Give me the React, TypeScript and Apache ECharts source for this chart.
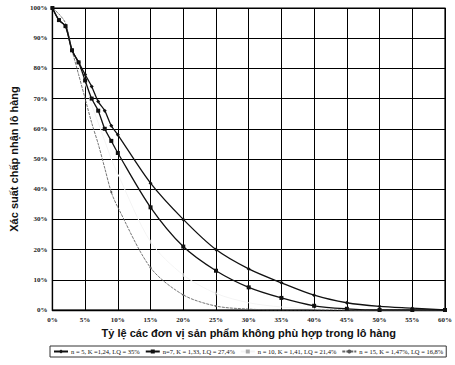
import React, { useEffect, useRef } from "react";
import * as echarts from "echarts";

const xValues = [0, 1, 2, 3, 4, 5, 6, 7, 8, 9, 10, 15, 20, 25, 30, 35, 40, 45, 50, 55, 60];
const n5 = [100, 96, 94, 86, 82, 78, 74, 69, 66, 61, 58, 42, 30, 20, 13.6, 9, 4.9, 2.4, 1.2, 0.6, 0];
const n7 = [100, 96, 94, 86, 82, 76, 70, 66, 60, 56, 52, 34, 21, 13, 7.5, 4, 1.4, 0.4, 0, 0, 0];
const n10 = [100, 97, 93, 87, 81, 75, 68, 62, 56, 50, 45, 22.6, 11.6, 5.5, 2.4, 1, 0.4, 0.1, 0, 0, 0];
const n15 = [100, 98, 95, 86, 78, 70, 62, 55, 47, 39, 34, 14, 5, 1.3, 0.3, 0, 0, 0, 0, 0, 0];
const n10Marked = [15, 20, 25];
const n15Marked = [9, 15, 20, 25];
const seriesNames = [
  "n = 5, K =1,24, LQ = 35%",
  "n=7, K = 1,33, LQ = 27,4%",
  "n = 10, K = 1,41, LQ = 21,4%",
  "n = 15, K = 1,47%, LQ = 16,8%",
];
const xTitle = "Tỷ lệ các đơn vị sản phẩm không phù hợp trong lô hàng";
const yTitle = "Xác suất chấp nhận lô hàng";

const pairs = (ys: number[]) => xValues.map((x, i) => [x, ys[i]]);
const pairsMarked = (ys: number[], marked: number[]) =>
  xValues.map((x, i) => (marked.includes(x) ? { value: [x, ys[i]] } : { value: [x, ys[i]], symbol: "none" }));

export default function App() {
  const ref = useRef<HTMLDivElement>(null);
  useEffect(() => {
    if (!ref.current) return;
    const chart = echarts.init(ref.current, null, { renderer: "svg" });
    const tickFont = { fontFamily: "Liberation Serif", fontSize: 7, fontWeight: "bold" as const, color: "#222" };
    chart.setOption({
      animation: false,
      backgroundColor: "#fff",
      grid: { left: 47, right: 8, top: 8, bottom: 55, show: true, borderColor: "#000", borderWidth: 1.2 },
      xAxis: {
        type: "value",
        min: 0,
        max: 60,
        interval: 5,
        axisLabel: { ...tickFont, margin: 6, formatter: (v: number) => v + "%" },
        axisLine: { lineStyle: { color: "#000", width: 1.3 } },
        axisTick: { show: false },
        splitLine: { lineStyle: { color: "#000", width: 1 } },
        name: xTitle,
        nameLocation: "middle",
        nameGap: 17,
        nameTextStyle: { fontFamily: "Liberation Sans", fontSize: 11, fontWeight: "bold", color: "#111" },
      },
      yAxis: {
        type: "value",
        min: 0,
        max: 100,
        interval: 10,
        axisLabel: { ...tickFont, margin: 5, formatter: (v: number) => v + "%" },
        axisLine: { show: true, lineStyle: { color: "#000", width: 1.3 } },
        axisTick: { show: false },
        splitLine: { lineStyle: { color: "#000", width: 1 } },
        name: yTitle,
        nameLocation: "middle",
        nameGap: 31,
        nameTextStyle: { fontFamily: "Liberation Sans", fontSize: 11, fontWeight: "bold", color: "#111" },
      },
      legend: {
        left: 50,
        top: 346,
        borderColor: "#333",
        borderWidth: 1,
        padding: [2, 3],
        itemGap: 5,
        itemWidth: 14,
        itemHeight: 5,
        textStyle: { fontFamily: "Liberation Serif", fontSize: 6.5, color: "#111", padding: [0, 0, 0, -2] },
        data: seriesNames,
      },
      series: [
        {
          name: seriesNames[0],
          type: "line",
          smooth: 0.3,
          data: pairs(n5),
          symbol: "diamond",
          symbolSize: 4,
          lineStyle: { color: "#111", width: 1.3 },
          itemStyle: { color: "#111" },
          z: 4,
        },
        {
          name: seriesNames[1],
          type: "line",
          smooth: 0.3,
          data: pairs(n7),
          symbol: "rect",
          symbolSize: 4,
          lineStyle: { color: "#111", width: 1.3 },
          itemStyle: { color: "#111" },
          z: 4,
        },
        {
          name: seriesNames[2],
          type: "line",
          smooth: 0.3,
          data: pairsMarked(n10, n10Marked),
          symbol: "rect",
          symbolSize: [1, 4],
          lineStyle: { color: "#f4f4f4", width: 1 },
          itemStyle: { color: "#aaa" },
          z: 3,
        },
        {
          name: seriesNames[3],
          type: "line",
          smooth: 0.3,
          data: pairsMarked(n15, n15Marked),
          symbol: "circle",
          symbolSize: 2,
          lineStyle: { color: "#666", width: 0.9, type: [3, 1] },
          itemStyle: { color: "#555" },
          z: 3,
        },
      ],
    });
    return () => chart.dispose();
  }, []);
  return <div ref={ref} style={{ width: 455, height: 365, position: "absolute", left: 0, top: 0 }} />;
}
